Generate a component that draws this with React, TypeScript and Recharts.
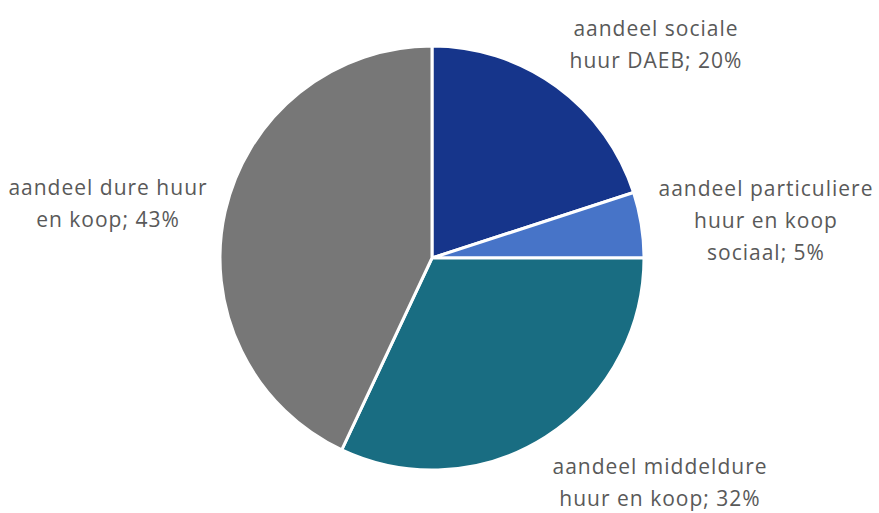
import { PieChart, Pie, Cell } from 'recharts'

const categories = [
  'aandeel sociale huur DAEB',
  'aandeel particuliere huur en koop sociaal',
  'aandeel middeldure huur en koop',
  'aandeel dure huur en koop',
]
const shares = [20, 5, 32, 43]
// label text, split the way the original wraps it
const labelLines = [
  ['aandeel sociale', 'huur DAEB; 20%'],
  ['aandeel particuliere', 'huur en koop', 'sociaal; 5%'],
  ['aandeel middeldure', 'huur en koop; 32%'],
  ['aandeel dure huur', 'en koop; 43%'],
]

const colors = ['#16358B', '#4774C8', '#196D82', '#777777']
// label block centre, relative to pie centre
const labelNudge = [
  [224, -214],
  [334, -38],
  [228, 224],
  [-324, -55],
]

const data = categories.map((name, i) => ({ name, value: shares[i] }))

const LINE_H = 32

const renderLabel = (props: any) => {
  const { cx, cy, index } = props
  const lines = labelLines[index]
  const [dx, dy] = labelNudge[index]
  const x = cx + dx
  const top = cy + dy - ((lines.length - 1) * LINE_H) / 2
  return (
    <text
      x={x}
      y={top}
      textAnchor="middle"
      dominantBaseline="central"
      fill="#595959"
      fontSize={21}
      letterSpacing={1}
      fontFamily="'Open Sans', sans-serif"
    >
      {lines.map((l, k) => (
        <tspan key={k} x={x} y={top + k * LINE_H}>
          {l}
        </tspan>
      ))}
    </text>
  )
}

export default function App() {
  return (
    <div style={{ position: 'absolute', left: 0, top: 0, width: 879, height: 513, background: '#fff' }}>
      <PieChart width={879} height={513} margin={{ top: 0, right: 0, bottom: 0, left: 0 }}>
        <Pie
          data={data}
          dataKey="value"
          nameKey="name"
          cx={432}
          cy={258}
          outerRadius={212}
          startAngle={90}
          endAngle={-270}
          stroke="#fff"
          strokeWidth={3}
          label={renderLabel}
          labelLine={false}
          isAnimationActive={false}
        >
          {data.map((d, i) => (
            <Cell key={d.name} fill={colors[i]} />
          ))}
        </Pie>
      </PieChart>
    </div>
  )
}
